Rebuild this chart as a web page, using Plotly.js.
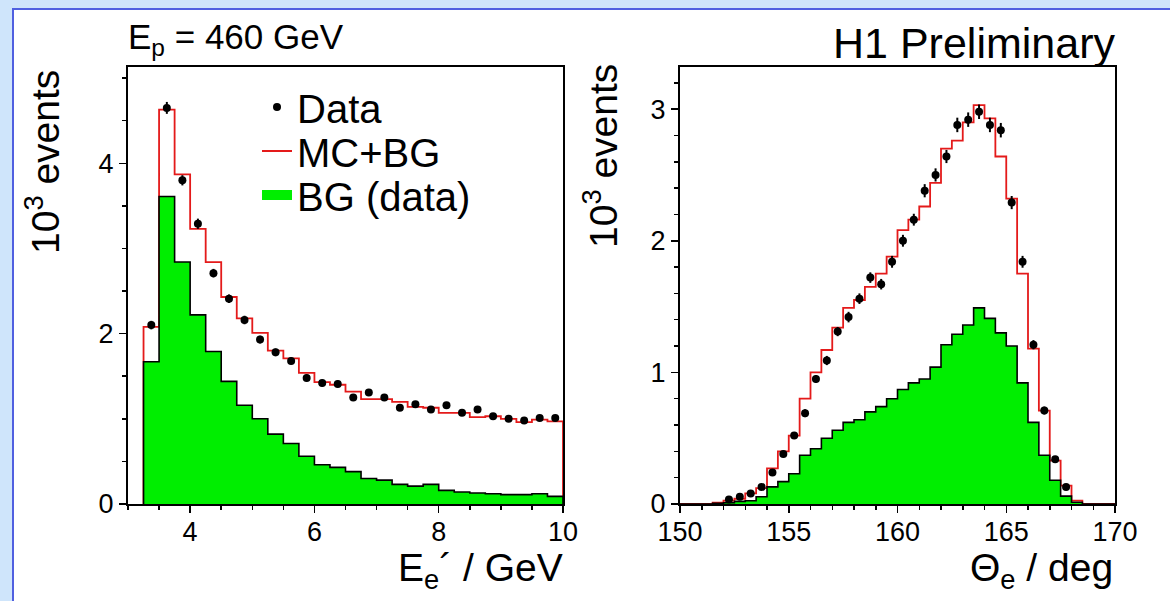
<!DOCTYPE html>
<html>
<head>
<meta charset="utf-8">
<script src="https://cdn.plot.ly/plotly-3.0.1.min.js"></script>
<style>
  html, body { margin: 0; padding: 0; width: 1170px; height: 601px; overflow: hidden; background: #cfe5fb; }
  #frame { position: absolute; left: 12px; top: 8px; width: 1200px; height: 640px; background: #ffffff; border-top: 2px solid #5060e0; border-left: 2px solid #5060e0; }
  #chart { position: absolute; left: 0; top: 0; width: 1170px; height: 601px; }
</style>
</head>
<body>
<div id="frame"></div>
<div id="chart"></div>
<script>
// ---------------- Left panel: E_e' spectrum (10^3 events) ----------------
const eEdges = [3.25,3.5,3.75,4,4.25,4.5,4.75,5,5.25,5.5,5.75,6,6.25,6.5,6.75,7,7.25,7.5,7.75,8,8.25,8.5,8.75,9,9.25,9.5,9.75,10];
const eCenters = [3.375,3.625,3.875,4.125,4.375,4.625,4.875,5.125,5.375,5.625,5.875,6.125,6.375,6.625,6.875,7.125,7.375,7.625,7.875,8.125,8.375,8.625,8.875,9.125,9.375,9.625,9.875];
const eMC = [2.08,4.63,3.87,3.23,2.84,2.43,2.18,2.01,1.80,1.71,1.54,1.43,1.40,1.32,1.23,1.23,1.20,1.14,1.13,1.07,1.07,1.02,1.03,1.00,0.96,0.99,0.97];
const eBG = [1.67,3.61,2.84,2.22,1.79,1.44,1.16,1.00,0.82,0.71,0.56,0.46,0.43,0.38,0.30,0.28,0.23,0.21,0.23,0.16,0.14,0.13,0.12,0.11,0.11,0.12,0.09];
const eData = [2.10,4.65,3.80,3.29,2.71,2.41,2.16,1.93,1.78,1.68,1.48,1.42,1.41,1.25,1.31,1.25,1.13,1.17,1.11,1.16,1.07,1.11,1.03,1.00,0.98,1.01,1.01];
const eErr = [0.05,0.07,0.06,0.06,0.05,0.05,0.05,0.045,0.045,0.04,0.04,0.04,0.04,0.035,0.035,0.035,0.035,0.035,0.035,0.035,0.035,0.035,0.03,0.03,0.03,0.03,0.03];

// ---------------- Right panel: Theta_e spectrum (10^3 events) ----------------
const tEdges = [150,150.5,151,151.5,152,152.5,153,153.5,154,154.5,155,155.5,156,156.5,157,157.5,158,158.5,159,159.5,160,160.5,161,161.5,162,162.5,163,163.5,164,164.5,165,165.5,166,166.5,167,167.5,168,168.5,169,169.5,170];
const tMC = [0,0,0,0.01,0.025,0.04,0.08,0.12,0.27,0.40,0.52,0.80,1.00,1.17,1.34,1.49,1.55,1.65,1.75,1.88,2.08,2.16,2.26,2.44,2.70,2.76,2.90,3.03,2.93,2.64,2.32,1.75,1.18,0.71,0.33,0.14,0.025,0,0,0];
const tBG = [0,0,0,0.005,0.01,0.02,0.025,0.055,0.13,0.17,0.23,0.37,0.42,0.50,0.56,0.62,0.64,0.70,0.74,0.80,0.87,0.92,0.95,1.04,1.21,1.29,1.36,1.49,1.41,1.30,1.20,0.92,0.62,0.37,0.18,0.06,0.013,0,0,0];
const tCenters = [152.25,152.75,153.25,153.75,154.25,154.75,155.25,155.75,156.25,156.75,157.25,157.75,158.25,158.75,159.25,159.75,160.25,160.75,161.25,161.75,162.25,162.75,163.25,163.75,164.25,164.75,165.25,165.75,166.25,166.75,167.25,167.75];
const tData = [0.035,0.056,0.08,0.13,0.24,0.38,0.52,0.69,0.95,1.09,1.31,1.42,1.56,1.72,1.67,1.84,2.00,2.16,2.38,2.50,2.64,2.88,2.92,2.98,2.88,2.84,2.29,1.84,1.21,0.71,0.34,0.13];
const tErr = [0.01,0.01,0.015,0.02,0.02,0.025,0.025,0.03,0.03,0.035,0.035,0.04,0.04,0.04,0.04,0.045,0.045,0.045,0.05,0.05,0.05,0.055,0.055,0.055,0.055,0.055,0.05,0.045,0.035,0.03,0.02,0.012];

// legend / text labels
const seriesNames = ['Data', 'MC+BG', 'BG (data)'];

const FONT = 'Liberation Sans, Arial, Helvetica, sans-serif';
const GREEN = '#00ee00';
const RED = '#e41a1a';
const W = 1170, H = 601;
const px = v => v / W;
const py = v => 1 - v / H;

// step outline: start at the first edge on zero, end on zero at last edge
function stepX(edges) { return [edges[0]].concat(edges); }
function stepY(vals) { return [0].concat(vals, [0]); }

const traces = [
  // left
  { x: stepX(eEdges), y: stepY(eMC), xaxis: 'x', yaxis: 'y', mode: 'lines', line: { shape: 'hv', color: RED, width: 1.8 }, name: seriesNames[1], legend: 'legend2', showlegend: true, hoverinfo: 'skip' },
  { x: stepX(eEdges), y: stepY(eBG), xaxis: 'x', yaxis: 'y', mode: 'lines', fill: 'tozeroy', fillcolor: GREEN, line: { shape: 'hv', color: '#000000', width: 1.6 }, name: seriesNames[2], showlegend: false, hoverinfo: 'skip' },
  { x: eCenters, y: eData, xaxis: 'x', yaxis: 'y', mode: 'markers', marker: { color: '#000000', size: 8 }, error_y: { type: 'data', array: eErr, visible: true, color: '#000000', thickness: 2, width: 0 }, name: seriesNames[0], legend: 'legend', showlegend: true },
  // legend-only swatch for the background
  { x: [null], y: [null], xaxis: 'x', yaxis: 'y', mode: 'lines', line: { color: GREEN, width: 10 }, name: seriesNames[2], legend: 'legend3', showlegend: true },
  // right
  { x: stepX(tEdges), y: stepY(tMC), xaxis: 'x2', yaxis: 'y2', mode: 'lines', line: { shape: 'hv', color: RED, width: 1.8 }, name: seriesNames[1], showlegend: false, hoverinfo: 'skip' },
  { x: stepX(tEdges), y: stepY(tBG), xaxis: 'x2', yaxis: 'y2', mode: 'lines', fill: 'tozeroy', fillcolor: GREEN, line: { shape: 'hv', color: '#000000', width: 1.6 }, name: seriesNames[2], showlegend: false, hoverinfo: 'skip' },
  { x: tCenters, y: tData, xaxis: 'x2', yaxis: 'y2', mode: 'markers', marker: { color: '#000000', size: 8 }, error_y: { type: 'data', array: tErr, visible: true, color: '#000000', thickness: 2, width: 0 }, name: seriesNames[0], showlegend: false }
];

function axisBase(extra) {
  return Object.assign({
    showline: true, linecolor: '#000000', linewidth: 2, mirror: true,
    ticks: 'outside', ticklen: 7, tickwidth: 1.5, tickcolor: '#000000',
    showgrid: false, zeroline: false, fixedrange: true,
    tickfont: { family: FONT, size: 27, color: '#000000' }
  }, extra);
}

const legendBase = (yPix) => ({
  visible: true,
  x: px(257), xanchor: 'left', y: py(yPix), yanchor: 'middle',
  bgcolor: 'rgba(0,0,0,0)', borderwidth: 0, itemwidth: 30,
  font: { family: FONT, size: 40, color: '#000000' }
});

const layout = {
  width: W, height: H,
  margin: { l: 0, r: 0, t: 0, b: 0, pad: 0 },
  paper_bgcolor: 'rgba(0,0,0,0)', plot_bgcolor: '#ffffff',
  hovermode: false,
  showlegend: true,
  font: { family: FONT, color: '#000000' },
  xaxis: axisBase({ domain: [px(128), px(563)], range: [3, 10], anchor: 'y', tick0: 0, dtick: 2, ticklabelstandoff: -4,
    minor: { ticks: 'outside', ticklen: 4, tickwidth: 1.5, tickcolor: '#000000', dtick: 0.5, showgrid: false } }),
  yaxis: axisBase({ domain: [py(504), py(67)], range: [0, 5.13], anchor: 'x', tick0: 0, dtick: 2,
    minor: { ticks: 'outside', ticklen: 4, tickwidth: 1.5, tickcolor: '#000000', dtick: 0.5, showgrid: false } }),
  xaxis2: axisBase({ domain: [px(680), px(1115)], range: [150, 170], anchor: 'y2', tick0: 150, dtick: 5, ticklabelstandoff: -4,
    minor: { ticks: 'outside', ticklen: 4, tickwidth: 1.5, tickcolor: '#000000', dtick: 1, showgrid: false } }),
  yaxis2: axisBase({ domain: [py(504), py(67)], range: [0, 3.32], anchor: 'x2', tick0: 0, dtick: 1,
    minor: { ticks: 'outside', ticklen: 4, tickwidth: 1.5, tickcolor: '#000000', dtick: 0.2, showgrid: false } }),
  legend: legendBase(107),
  legend2: legendBase(151),
  legend3: legendBase(195),
  annotations: [
    { text: 'E<sub>p</sub> = 460 GeV', xref: 'paper', yref: 'paper', x: px(126), y: py(39), xanchor: 'left', yanchor: 'middle', showarrow: false, font: { family: FONT, size: 35, color: '#000000' } },
    { text: 'H1 Preliminary', xref: 'paper', yref: 'paper', x: px(1117), y: py(43), xanchor: 'right', yanchor: 'middle', showarrow: false, font: { family: FONT, size: 43, color: '#000000' } },
    { text: 'E<sub>e</sub>\u00b4 / GeV', xref: 'paper', yref: 'paper', x: px(565), y: py(570), xanchor: 'right', yanchor: 'middle', showarrow: false, font: { family: FONT, size: 39, color: '#000000' } },
    { text: '\u0398<sub>e</sub> / deg', xref: 'paper', yref: 'paper', x: px(1115), y: py(570), xanchor: 'right', yanchor: 'middle', showarrow: false, font: { family: FONT, size: 39, color: '#000000' } },
    { text: '10<sup>3</sup> events', xref: 'paper', yref: 'paper', x: px(42), y: py(68), xanchor: 'center', yanchor: 'top', textangle: -90, showarrow: false, font: { family: FONT, size: 39, color: '#000000' } },
    { text: '10<sup>3</sup> events', xref: 'paper', yref: 'paper', x: px(600), y: py(62), xanchor: 'center', yanchor: 'top', textangle: -90, showarrow: false, font: { family: FONT, size: 39, color: '#000000' } }
  ]
};

Plotly.newPlot('chart', traces, layout, { staticPlot: true, displayModeBar: false });
</script>
</body>
</html>
